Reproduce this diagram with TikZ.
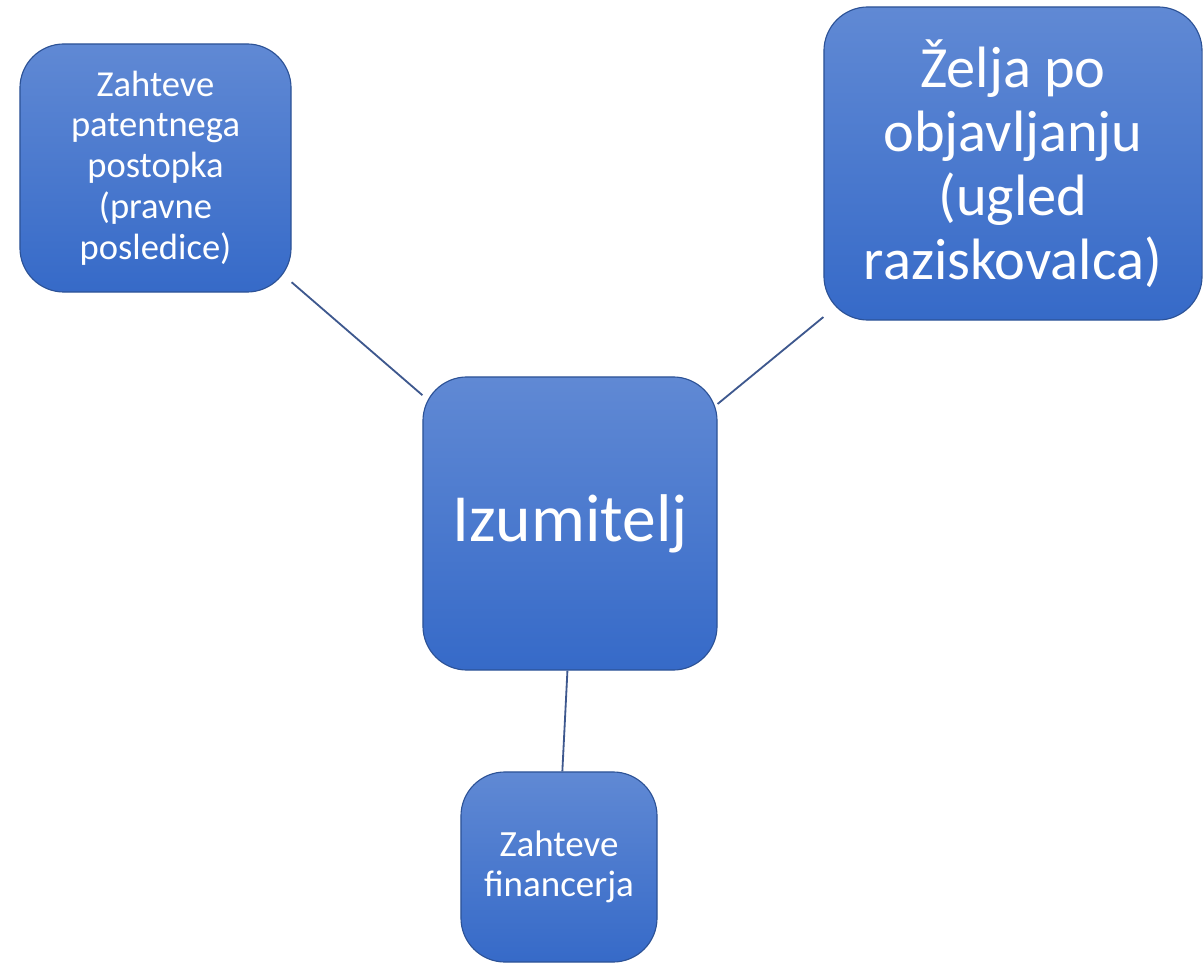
\documentclass[tikz,border=0pt]{standalone}
\usepackage{fontspec}
\setmainfont{Carlito}
\usepackage{xcolor}
\usepackage{tikz}
\usetikzlibrary{shapes,positioning,calc}

\definecolor{boxtop}{RGB}{96,137,212}
\definecolor{boxbot}{RGB}{54,106,200}
\definecolor{boxedge}{RGB}{44,82,150}
\definecolor{linkcol}{RGB}{62,88,142}

\begin{document}
\begin{tikzpicture}[
    x=0.025cm, y=-0.025cm,
    box/.style={rectangle, draw=boxedge, line width=0.8pt, top color=boxtop, bottom color=boxbot, rounded corners=1.1cm, text=white, align=center, inner sep=2pt},
    link/.style={draw=linkcol, line width=1.3pt}
]
    \useasboundingbox (0,0) rectangle (1203,964);

    % Boxes
    \node[box, minimum width=6.775cm, minimum height=6.2cm, font=\fontsize{26}{29}\selectfont] (patent) at (155.5,168) {Zahteve\\patentnega\\postopka\\(pravne\\posledice)};
    \node[box, minimum width=9.45cm, minimum height=7.825cm, font=\fontsize{41.5}{45.5}\selectfont] (pub) at (1013,163.5) {Želja po\\objavljanju\\(ugled\\raziskovalca)};
    \node[box, minimum width=7.35cm, minimum height=7.325cm, font=\fontsize{48}{56}\selectfont] (inv) at (570,523.5) {Izumitelj};
    \node[box, minimum width=4.9cm, minimum height=4.75cm, font=\fontsize{26.3}{28.5}\selectfont] (fin) at (559,867) {Zahteve\\financerja};

    % Links
    \draw[link] (patent.-40) -- (inv.139);
    \draw[link] (inv.39) -- (pub.219);
    \draw[link] (inv.-91) -- (fin.88);

\end{tikzpicture}
\end{document}
